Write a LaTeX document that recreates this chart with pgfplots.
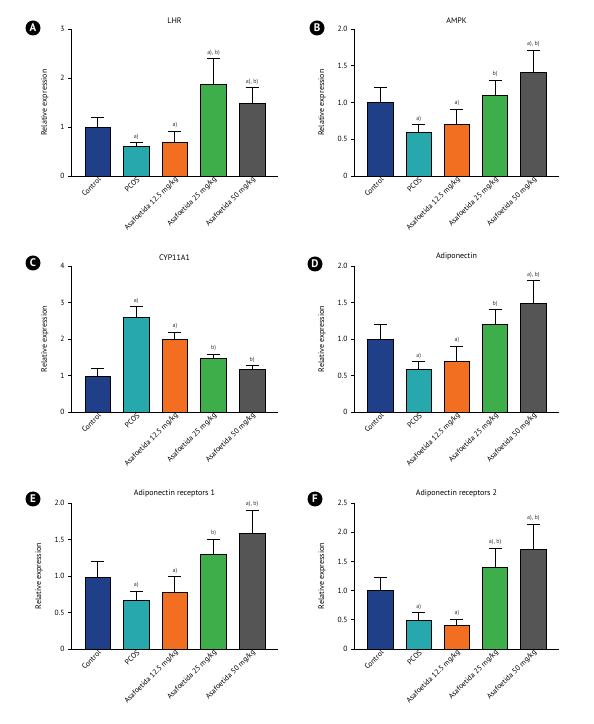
\documentclass[border=0pt]{standalone}
\usepackage{fontspec}
\setmainfont{PT Sans}
\usepackage{pgfplots}
\pgfplotsset{compat=1.18}
\definecolor{cctrl}{HTML}{1F4088}
\definecolor{cpcos}{HTML}{26A8AC}
\definecolor{clow}{HTML}{F26F21}
\definecolor{cmid}{HTML}{3DAE49}
\definecolor{chigh}{HTML}{555555}
\pgfplotsset{
 panel/.style={
  scale only axis, anchor=south west,
  height=147pt,
  xmin=-0.69, xmax=4.67,
  ymin=0,
  axis x line=bottom, axis y line=left,
  axis line style={-, line width=0.8pt, black},
  xtick={0,1,2,3,4},
  xticklabels={Control,PCOS,Asafoetida 12.5 mg/kg,Asafoetida 25 mg/kg,Asafoetida 50 mg/kg},
  x tick style={draw=none},
  y tick style={line width=0.8pt, black},
  tick align=outside, major tick length=3pt,
  x tick label style={rotate=45, anchor=east, font=\fontsize{7.5}{8}\selectfont, inner sep=1pt, xshift=3pt, yshift=-1pt},
  y tick label style={font=\fontsize{7.5}{8}\selectfont},
  ylabel={Relative expression},
  ylabel style={font=\fontsize{8}{9}\selectfont},
  ylabel shift=5pt,
  title style={font=\fontsize{8}{9}\selectfont, yshift=-4pt},
  /pgf/number format/assume math mode=true,
  clip=false,
 },
 bar/.style={ybar, bar shift=0pt, bar width=0.66, fill=#1, draw=black, line width=0.6pt},
 err/.style={draw=none, mark=none, forget plot,
  error bars/.cd, y dir=plus, y explicit,
  error bar style={draw=black, line width=0.9pt},
  error mark options={rotate=90, draw=black, line width=0.9pt, mark size=6.5pt}},
 ann/.style={draw=none, mark=none, forget plot, nodes near coords, point meta=explicit symbolic,
  nodes near coords style={font=\fontsize{6}{7}\selectfont, anchor=south, inner sep=3pt, text=black!80}},
}
\tikzset{plabel/.style={circle, fill=black, text=white, inner sep=0pt, minimum size=15pt, font=\bfseries\fontsize{11}{11}\selectfont}}
\begin{document}
\begin{tikzpicture}
\useasboundingbox (0pt,0pt) rectangle (594pt,724pt);
% ---------- A
\node[plabel] at (33pt,696pt) {A};
\begin{axis}[panel, at={(71pt,548pt)}, width=207pt, title={LHR},
  ymax=3, ytick={0,1,2,3}, yticklabels={0,1,2,3}]
\addplot[bar=cctrl] coordinates {(0,1.0)};
\addplot[bar=cpcos] coordinates {(1,0.61)};
\addplot[bar=clow] coordinates {(2,0.68)};
\addplot[bar=cmid] coordinates {(3,1.88)};
\addplot[bar=chigh] coordinates {(4,1.48)};
\addplot[err] coordinates {(0,1.0) +- (0,0.2) (1,0.61) +- (0,0.07) (2,0.68) +- (0,0.23) (3,1.88) +- (0,0.51) (4,1.48) +- (0,0.32)};
\addplot[ann] coordinates {(1,0.68) [a)] (2,0.91) [a)] (3,2.39) [{a), b)}] (4,1.80) [{a), b)}]};
\end{axis}
% ---------- B
\node[plabel] at (317pt,696pt) {B};
\begin{axis}[panel, at={(354pt,548pt)}, width=205pt, title={AMPK},
  ymax=2, ytick={0,0.5,1,1.5,2}, yticklabels={0,0.5,1.0,1.5,2.0}]
\addplot[bar=cctrl] coordinates {(0,1.0)};
\addplot[bar=cpcos] coordinates {(1,0.59)};
\addplot[bar=clow] coordinates {(2,0.70)};
\addplot[bar=cmid] coordinates {(3,1.10)};
\addplot[bar=chigh] coordinates {(4,1.41)};
\addplot[err] coordinates {(0,1.0) +- (0,0.21) (1,0.59) +- (0,0.11) (2,0.70) +- (0,0.21) (3,1.10) +- (0,0.20) (4,1.41) +- (0,0.30)};
\addplot[ann] coordinates {(1,0.70) [a)] (2,0.91) [a)] (3,1.30) [b)] (4,1.71) [{a), b)}]};
\end{axis}
% ---------- C
\node[plabel] at (33pt,461pt) {C};
\begin{axis}[panel, at={(71pt,312pt)}, width=207pt, height=146pt, title={CYP11A1},
  ymax=4, ytick={0,1,2,3,4}, yticklabels={0,1,2,3,4}]
\addplot[bar=cctrl] coordinates {(0,0.99)};
\addplot[bar=cpcos] coordinates {(1,2.59)};
\addplot[bar=clow] coordinates {(2,1.99)};
\addplot[bar=cmid] coordinates {(3,1.47)};
\addplot[bar=chigh] coordinates {(4,1.17)};
\addplot[err] coordinates {(0,0.99) +- (0,0.21) (1,2.59) +- (0,0.29) (2,1.99) +- (0,0.19) (3,1.47) +- (0,0.11) (4,1.17) +- (0,0.10)};
\addplot[ann] coordinates {(1,2.88) [a)] (2,2.18) [a)] (3,1.58) [b)] (4,1.27) [b)]};
\end{axis}
% ---------- D
\node[plabel] at (315pt,460pt) {D};
\begin{axis}[panel, at={(354pt,312pt)}, width=205pt, height=146pt, title={Adiponectin},
  ymax=2, ytick={0,0.5,1,1.5,2}, yticklabels={0,0.5,1.0,1.5,2.0}]
\addplot[bar=cctrl] coordinates {(0,1.0)};
\addplot[bar=cpcos] coordinates {(1,0.59)};
\addplot[bar=clow] coordinates {(2,0.69)};
\addplot[bar=cmid] coordinates {(3,1.20)};
\addplot[bar=chigh] coordinates {(4,1.49)};
\addplot[err] coordinates {(0,1.0) +- (0,0.2) (1,0.59) +- (0,0.10) (2,0.69) +- (0,0.21) (3,1.20) +- (0,0.20) (4,1.49) +- (0,0.31)};
\addplot[ann] coordinates {(1,0.69) [a)] (2,0.90) [a)] (3,1.40) [b)] (4,1.80) [{a), b)}]};
\end{axis}
% ---------- E
\node[plabel] at (33pt,225pt) {E};
\begin{axis}[panel, at={(71pt,75pt)}, width=207pt, height=146pt, title={Adiponectin receptors 1},
  ymax=2, ytick={0,0.5,1,1.5,2}, yticklabels={0,0.5,1.0,1.5,2.0}]
\addplot[bar=cctrl] coordinates {(0,0.98)};
\addplot[bar=cpcos] coordinates {(1,0.67)};
\addplot[bar=clow] coordinates {(2,0.78)};
\addplot[bar=cmid] coordinates {(3,1.30)};
\addplot[bar=chigh] coordinates {(4,1.59)};
\addplot[err] coordinates {(0,0.98) +- (0,0.22) (1,0.67) +- (0,0.12) (2,0.78) +- (0,0.21) (3,1.30) +- (0,0.20) (4,1.59) +- (0,0.31)};
\addplot[ann] coordinates {(1,0.79) [a)] (2,0.99) [a)] (3,1.50) [b)] (4,1.90) [{a), b)}]};
\end{axis}
% ---------- F
\node[plabel] at (315pt,225pt) {F};
\begin{axis}[panel, at={(354pt,75pt)}, width=205pt, height=146pt, title={Adiponectin receptors 2},
  ymax=2.5, ytick={0,0.5,1,1.5,2,2.5}, yticklabels={0,0.5,1.0,1.5,2.0,2.5}]
\addplot[bar=cctrl] coordinates {(0,1.01)};
\addplot[bar=cpcos] coordinates {(1,0.50)};
\addplot[bar=clow] coordinates {(2,0.40)};
\addplot[bar=cmid] coordinates {(3,1.40)};
\addplot[bar=chigh] coordinates {(4,1.71)};
\addplot[err] coordinates {(0,1.01) +- (0,0.21) (1,0.50) +- (0,0.12) (2,0.40) +- (0,0.11) (3,1.40) +- (0,0.33) (4,1.71) +- (0,0.43)};
\addplot[ann] coordinates {(1,0.62) [a)] (2,0.51) [a)] (3,1.73) [{a), b)}] (4,2.14) [{a), b)}]};
\end{axis}
\end{tikzpicture}
\end{document}
